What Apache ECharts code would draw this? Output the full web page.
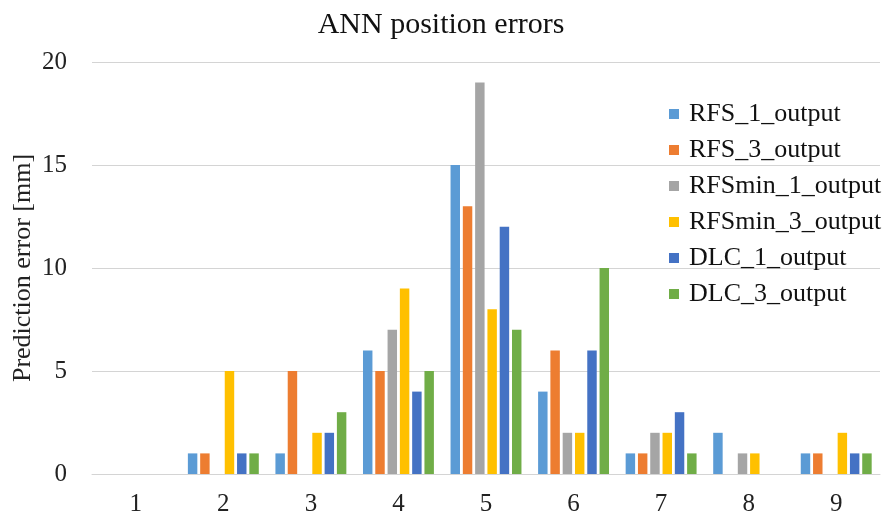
<!DOCTYPE html>
<html>
<head>
<meta charset="utf-8">
<script src="https://cdn.jsdelivr.net/npm/echarts@6/dist/echarts.min.js"></script>
<style>
  html, body { margin: 0; padding: 0; background: #fff; }
  #chart { width: 882px; height: 514px; }
</style>
</head>
<body>
<div id="chart"></div>
<script>
const categories = ['1', '2', '3', '4', '5', '6', '7', '8', '9']
const seriesNames = ['RFS_1_output', 'RFS_3_output', 'RFSmin_1_output', 'RFSmin_3_output', 'DLC_1_output', 'DLC_3_output']
const rfs1 = [0, 1, 1, 6, 15, 4, 1, 2, 1]
const rfs3 = [0, 1, 5, 5, 13, 6, 1, 0, 1]
const rfsMin1 = [0, 0, 0, 7, 19, 2, 2, 1, 0]
const rfsMin3 = [0, 5, 2, 9, 8, 2, 2, 1, 2]
const dlc1 = [0, 1, 2, 4, 12, 6, 3, 0, 1]
const dlc3 = [0, 1, 3, 5, 7, 10, 1, 0, 1]
const colors = ['#5B9BD5', '#ED7D31', '#A5A5A5', '#FFC000', '#4472C4', '#70AD47']

const font = 'Liberation Serif'
const values = [rfs1, rfs3, rfsMin1, rfsMin3, dlc1, dlc3]

const chart = echarts.init(document.getElementById('chart'))
chart.setOption({
  animation: false,
  color: colors,
  title: {
    text: 'ANN position errors',
    left: 'center',
    top: 5,
    textStyle: {
      fontFamily: font,
      fontSize: 30,
      fontWeight: 'normal',
      color: '#111'
    }
  },
  legend: {
    orient: 'vertical',
    left: 664,
    top: 96,
    itemWidth: 10,
    itemHeight: 10,
    itemGap: 10,
    icon: 'rect',
    textStyle: {
      fontFamily: font,
      fontSize: 26,
      lineHeight: 26,
      color: '#111',
      padding: [0, 0, 0, 5]
    },
    data: seriesNames
  },
  grid: {
    left: 92,
    right: 2,
    top: 62,
    bottom: 40,
    outerBoundsMode: 'none'
  },
  xAxis: {
    type: 'category',
    data: categories,
    axisTick: { show: false },
    axisLine: {
      lineStyle: { color: '#d4d4d4', width: 1 }
    },
    axisLabel: {
      margin: 18,
      fontFamily: font,
      fontSize: 25,
      color: '#222'
    }
  },
  yAxis: {
    type: 'value',
    min: 0,
    max: 20,
    interval: 5,
    name: 'Prediction error [mm]',
    nameLocation: 'middle',
    nameGap: 56,
    nameMoveOverlap: false,
    nameTextStyle: {
      fontFamily: font,
      fontSize: 26,
      color: '#222'
    },
    axisLine: { show: false },
    axisTick: { show: false },
    axisLabel: {
      margin: 25,
      fontFamily: font,
      fontSize: 25,
      color: '#222'
    },
    splitLine: {
      lineStyle: { color: '#d4d4d4', width: 1 }
    }
  },
  series: seriesNames.map((name, i) => ({
    name: name,
    type: 'bar',
    data: values[i],
    barGap: '30%',
    barCategoryGap: '19%'
  }))
})
</script>
</body>
</html>
